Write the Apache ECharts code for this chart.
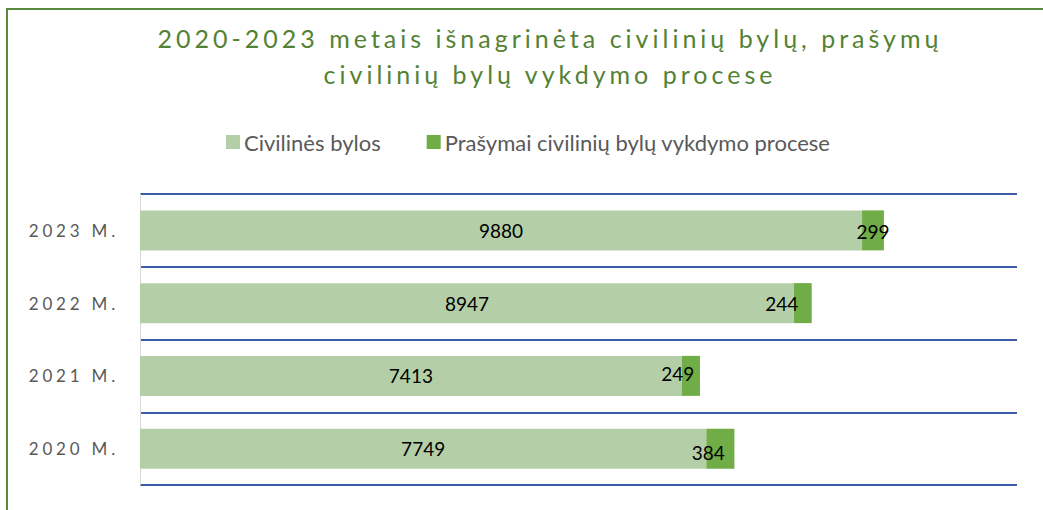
<!DOCTYPE html>
<html>
<head>
<meta charset="utf-8">
<script src="https://cdn.jsdelivr.net/npm/echarts@6/dist/echarts.min.js"></script>
<style>
  html, body { margin: 0; padding: 0; background: #fff; }
  #chart { width: 1043px; height: 510px; }
  #chart text[fill="#548235"] { letter-spacing: 4px; }
  #chart text[fill="#595958"] { letter-spacing: 3.8px; }
</style>
</head>
<body>
<div id="chart"></div>
<script>
// ---- data ----
const categories = ['2020 M.', '2021 M.', '2022 M.', '2023 M.'];
const civilinesBylos = [7749, 7413, 8947, 9880];
const prasymai = [384, 249, 244, 299];
const seriesNames = ['Civilinės bylos', 'Prašymai civilinių bylų vykdymo procese'];
const titleText = '2020-2023 metais išnagrinėta civilinių bylų, prašymų\ncivilinių bylų vykdymo procese';

// label placement (style only, mimics the original's shifted labels)
const prasymaiLabelOffsets = [[-12, 4], [-13, -2], [-21, 0], [0, 1]];

const FONT = 'Lato, "Open Sans", sans-serif';

const chart = echarts.init(document.getElementById('chart'), null, { renderer: 'svg' });

const option = {
  animation: false,
  backgroundColor: '#ffffff',
  title: {
    text: titleText,
    left: 550,
    top: 20,
    padding: 0,
    textAlign: 'center',
    textStyle: {
      fontFamily: FONT,
      fontSize: 25,
      fontWeight: 'normal',
      lineHeight: 36,
      color: '#548235'
    }
  },
  legend: {
    data: seriesNames,
    left: 226,
    top: 131,
    padding: 0,
    itemWidth: 14,
    itemHeight: 14,
    itemGap: 46,
    icon: 'rect',
    textStyle: {
      fontFamily: FONT,
      fontSize: 22,
      color: '#595959',
      padding: [0, 0, 0, -1]
    }
  },
  grid: {
    left: 140,
    right: 26,
    top: 194,
    bottom: 25,
    containLabel: false
  },
  xAxis: {
    type: 'value',
    min: 0,
    max: 12000,
    show: false
  },
  yAxis: {
    type: 'category',
    data: categories,
    axisTick: { show: false },
    axisLine: { show: true, lineStyle: { color: '#d9d9d9', width: 1 } },
    splitLine: { show: true, lineStyle: { color: '#3B5CA6', width: 2 } },
    axisLabel: {
      color: '#595958',
      fontFamily: FONT,
      fontSize: 17,
      margin: 21
    }
  },
  graphic: [{
    type: 'polyline',
    silent: true,
    shape: { points: [[7, 510], [7, 9], [1043, 9]] },
    style: { stroke: '#5A8A3C', lineWidth: 2, fill: 'none' }
  }],
  series: [
    {
      name: seriesNames[0],
      type: 'bar',
      stack: 'total',
      barWidth: 40,
      data: civilinesBylos,
      itemStyle: { color: '#B4CFA7' },
      label: {
        show: true,
        position: 'inside',
        color: '#000',
        fontFamily: FONT,
        fontSize: 19
      }
    },
    {
      name: seriesNames[1],
      type: 'bar',
      stack: 'total',
      barWidth: 40,
      data: prasymai.map((v, i) => ({
        value: v,
        label: { offset: prasymaiLabelOffsets[i] }
      })),
      itemStyle: { color: '#70AD47' },
      label: {
        show: true,
        position: 'inside',
        color: '#000',
        fontFamily: FONT,
        fontSize: 19
      }
    }
  ]
};

chart.setOption(option);

function applySpacing() {
  const texts = document.querySelectorAll('#chart text');
  texts.forEach(t => {
    const f = (t.getAttribute('fill') || '').toLowerCase();
    const cs = getComputedStyle(t).fill;
    if (f === '#548235' || cs === 'rgb(84, 130, 53)') t.style.letterSpacing = '4px';
    if (f === '#595958' || cs === 'rgb(89, 89, 88)') t.style.letterSpacing = '3.8px';
  });
}
applySpacing();
chart.on('finished', applySpacing);
</script>
</body>
</html>
